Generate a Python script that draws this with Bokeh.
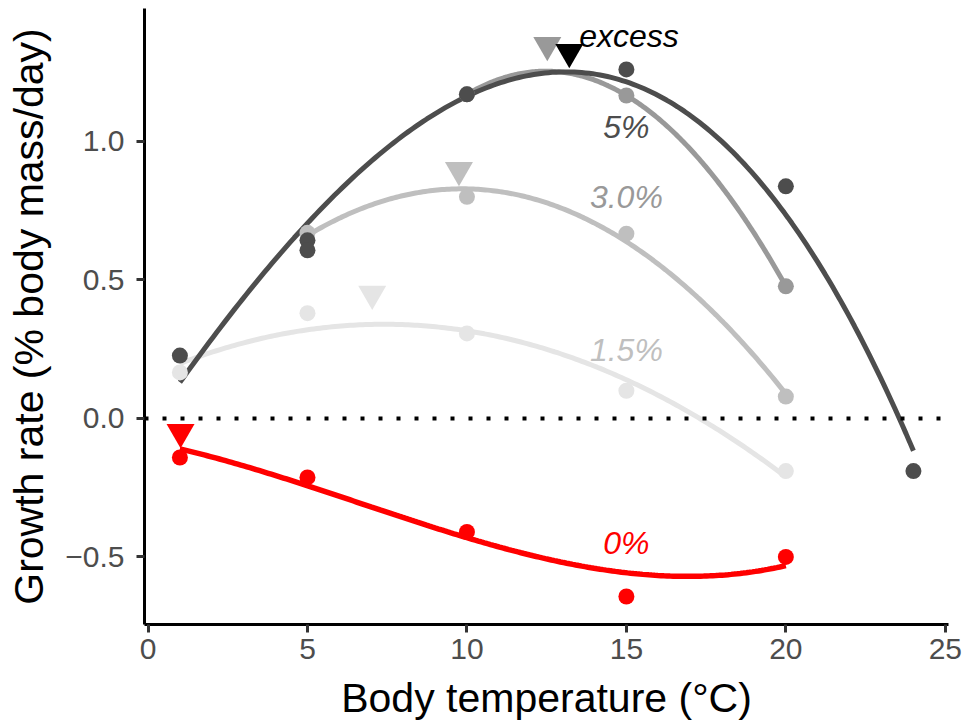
import numpy as np
from bokeh.plotting import figure
from bokeh.models import Range1d, FixedTicker, Span, ColumnDataSource
from bokeh.embed import file_html
from bokeh.resources import INLINE

# ---- data ----
groups = ["1.5%", "3.0%", "5%", "excess", "0%"]
colors = {"1.5%": "#e5e5e5", "3.0%": "#bfbfbf", "5%": "#999999", "excess": "#4d4d4d", "0%": "#ff0000"}

x_15 = [1, 5, 10, 15, 20]
y_15 = [0.166, 0.38, 0.307, 0.10, -0.19]

x_30 = [5, 10, 15, 20]
y_30 = [0.67, 0.80, 0.667, 0.079]

x_5 = [10, 15, 20]
y_5 = [1.17, 1.166, 0.477]

x_ex = [1, 5, 5, 10, 15, 20, 24]
y_ex = [0.227, 0.643, 0.607, 1.17, 1.26, 0.838, -0.19]

x_0 = [1, 5, 10, 15, 20]
y_0 = [-0.141, -0.213, -0.41, -0.643, -0.50]

# fitted curves of the excess and 0% series
curve_ex_x = [1, 2.9, 5, 7.05, 10, 13.2, 15, 18.3, 20, 22.5, 24]
curve_ex_y = [0.126, 0.426, 0.708, 0.931, 1.17, 1.238, 1.213, 0.967, 0.751, 0.245, -0.115]

curve0_x = [1, 5, 10, 12.3, 15, 16.3, 20]
curve0_y = [-0.108, -0.25, -0.42, -0.505, -0.56, -0.57, -0.53]

fit_degree = {"1.5%": 2, "3.0%": 2, "5%": 2, "excess": 3, "0%": 3}

# optimum markers (inverted triangles)
opt_x = [7.03, 9.75, 12.52, 13.21, 1.02]
opt_y = [0.450, 0.897, 1.348, 1.323, -0.049]
opt_colors = ["#e5e5e5", "#bfbfbf", "#999999", "#000000", "#ff0000"]

# curve labels
lab_text = ["1.5%", "3.0%", "5%", "excess", "0%"]
lab_x = [15, 15, 15, 15.08, 15]
lab_y = [0.246, 0.798, 1.051, 1.382, -0.451]
lab_colors = ["#bfbfbf", "#999999", "#4d4d4d", "#000000", "#ff0000"]

x_ticks = [0, 5, 10, 15, 20, 25]
y_ticks = [-0.5, 0.0, 0.5, 1.0]
y_tick_labels = {-0.5: "\u22120.5", 0.0: "0.0", 0.5: "0.5", 1.0: "1.0"}

series = {
    "1.5%": (x_15, y_15),
    "3.0%": (x_30, y_30),
    "5%": (x_5, y_5),
    "excess": (x_ex, y_ex),
    "0%": (x_0, y_0),
}
curve_src = dict(series)
curve_src["excess"] = (curve_ex_x, curve_ex_y)
curve_src["0%"] = (curve0_x, curve0_y)

FONT = "Liberation Sans"

p = figure(width=966, height=724, output_backend="svg", toolbar_location=None,
           x_range=Range1d(-0.11, 25.1), y_range=Range1d(-0.744, 1.48),
           min_border_left=144, min_border_right=18, min_border_top=8, min_border_bottom=100)
p.outline_line_color = None
p.xgrid.visible = False
p.ygrid.visible = False
p.background_fill_color = "white"
p.border_fill_color = "white"

# zero line
p.add_layout(Span(location=0, dimension="width", line_color="black", line_width=4,
                  line_dash="4 14"))

# fitted curves
for g in groups:
    xs, ys = curve_src[g]
    coef = np.polyfit(xs, ys, fit_degree[g])
    xx = np.linspace(min(xs), max(xs), 200)
    p.line(xx, np.polyval(coef, xx), line_color=colors[g], line_width=5 if g != "0%" else 5.5)

# points
for g in groups:
    xs, ys = series[g]
    p.scatter(xs, ys, size=16, marker="circle", fill_color=colors[g], line_color=None)

# optimum triangles
p.scatter(opt_x, opt_y, marker="inverted_triangle", size=28, fill_color=opt_colors,
          line_color=None)

# labels
src = ColumnDataSource(dict(x=lab_x, y=lab_y, t=lab_text, c=lab_colors))
p.text(x="x", y="y", text="t", text_color="c", source=src, text_align="center",
       text_baseline="alphabetic", text_font_size="32px", text_font_style="italic",
       text_font={"value": FONT})

# axes
for ax in (p.xaxis[0], p.yaxis[0]):
    ax.axis_line_color = "black"
    ax.axis_line_width = 3
    ax.major_tick_line_color = "#333333"
    ax.major_tick_line_width = 3
    ax.major_tick_out = 8
    ax.major_tick_in = 0
    ax.minor_tick_out = 0
    ax.minor_tick_in = 0
    ax.major_label_text_font = FONT
    ax.major_label_text_font_size = "30px"
    ax.major_label_text_color = "#4d4d4d"
    ax.axis_label_text_font = FONT
    ax.axis_label_text_font_size = "41px"
    ax.axis_label_text_font_style = "normal"
    ax.axis_label_text_color = "black"

p.xaxis.ticker = FixedTicker(ticks=x_ticks)
p.yaxis.ticker = FixedTicker(ticks=y_ticks)
p.yaxis.major_label_overrides = y_tick_labels
p.xaxis.axis_label = "Body temperature (\u00b0C)"
p.yaxis.axis_label = "Growth rate (% body mass/day)"
p.xaxis.major_label_standoff = 6
p.yaxis.major_label_standoff = 12
p.xaxis.axis_label_standoff = 13
p.yaxis.axis_label_standoff = 10

open("out.html", "w").write(file_html(p, INLINE))
